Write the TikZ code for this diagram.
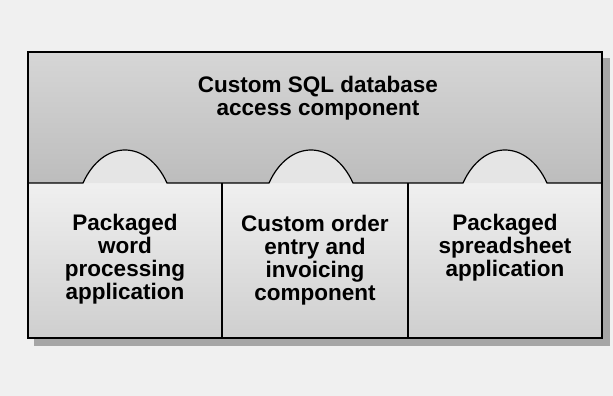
\documentclass[tikz,border=0pt]{standalone}
\usepackage{fontspec}
\setmainfont{Liberation Sans}
\begin{document}
\begin{tikzpicture}[x=1pt,y=-1pt,
  lbl/.style={font=\bfseries\fontsize{22.5}{23}\selectfont, align=center, inner sep=0pt},
  rim/.style={draw=black, line width=2pt},
  seam/.style={draw=black, line width=1.2pt},
  divider/.style={draw=black, line width=1.3pt},
]
\useasboundingbox (0,0) rectangle (613,396);
% page background
\fill[black!6] (0,0) rectangle (613,396);
% drop shadow of the whole assembly
\fill[black!35] (34,58) rectangle (610,346);
% shared database component (upper block)
\path[top color=black!16, middle color=black!8, bottom color=black!26] (28,52) rectangle (602,183);
% application components (lower blocks)
\path[top color=black!6, bottom color=black!19] (28,183) rectangle (602,338);
% tabs plugging the applications into the database component
\foreach \c in {125,311,505}
  \fill[black!10] (\c-42,183) .. controls (\c-22,139) and (\c+22,139) .. (\c+42,183) -- cycle;
% seam between upper and lower blocks
\draw[seam] (28,183) -- (83,183)
  .. controls (103,139) and (147,139) .. (167,183) -- (269,183)
  .. controls (289,139) and (333,139) .. (353,183) -- (463,183)
  .. controls (483,139) and (527,139) .. (547,183) -- (602,183);
% dividers between the applications
\draw[divider] (222,183) -- (222,338);
\draw[divider] (408,183) -- (408,338);
% outer frame
\draw[rim] (28,52) rectangle (602,338);
% labels
\node[lbl] (db) at (318,98.5) {Custom SQL database\\access component};
\node[lbl] (word) at (125,259.5) {Packaged\\word\\processing\\application};
\node[lbl] (order) at (315,260) {Custom order\\entry and\\invoicing\\component};
\node[lbl] (sheet) at (505,248) {Packaged\\spreadsheet\\application};
\end{tikzpicture}
\end{document}
